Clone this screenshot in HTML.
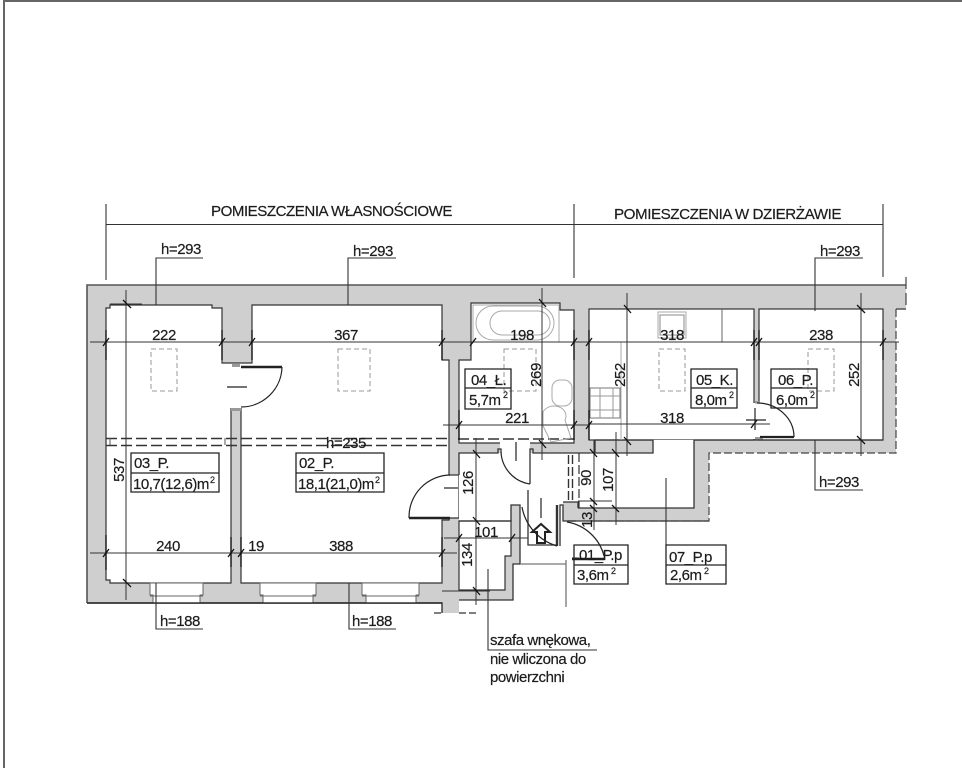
<!DOCTYPE html>
<html><head><meta charset="utf-8"><style>
html,body{margin:0;padding:0;background:#fff}
svg{display:block}
text{font-family:"Liberation Sans",sans-serif;font-size:15px;letter-spacing:-.45px;fill:#1c1c1c;stroke:#1c1c1c;stroke-width:.2px}
#plan{filter:blur(.35px)}
</style></head><body>
<svg width="962" height="768" viewBox="0 0 962 768" xmlns="http://www.w3.org/2000/svg">
<rect width="962" height="768" fill="#fff"/>
<g id="plan">
<path d="M4 768V1H962" fill="none" stroke="#666" stroke-width="2"/>

<!-- walls -->
<path d="M87 285H906V309H896V453H709V521H563V502H520V564H513V600H459V613H442V603H87Z" fill="#cfcfcf"/>
<!-- rooms white -->
<g fill="#fff" stroke="#333" stroke-width="1.2">
<path d="M106 308H110V305H212V308H222V363H252V305H442V360H449V475H459V518H449V520H442V583H241V408H231V583H110V580H106Z"/>
<path d="M471 303H560V310H574V443H459V360H471Z"/>
<rect x="589" y="309" width="165" height="131"/>
<rect x="759" y="309" width="124" height="131"/>
<path d="M459 453H653V440H694V508H578V502H563V502H520V505H511V521H459Z" stroke="none"/>
<path d="M459 521H511V556H505V590H459Z"/>
</g>
<rect x="222" y="364" width="20" height="44" fill="#fff"/>
<rect x="500" y="442" width="30" height="13" fill="#fff"/>
<rect x="753" y="403" width="7" height="36" fill="#fff"/>
<rect x="232" y="364" width="8" height="3" fill="#999"/>
<rect x="231" y="408" width="10" height="3" fill="#999"/>
<rect x="755" y="401" width="5" height="2.500" fill="#999"/>
<rect x="755" y="437" width="8" height="3" fill="#999"/>

<!-- solid wall outlines -->
<g fill="none" stroke="#333" stroke-width="1.3">
<path d="M906 309H896M87 603V285H906" stroke-width="1.6" stroke="#555"/>
<path d="M87 603H442V613" stroke-width="1.4"/>
<path d="M459 475V453H498V449H501V453M530 484V449H533V453H590"/>
<path d="M595 453H653V440H595ZM694 440V508H578M694 440H883" />
<path d="M459 521H511V505H520V564H513V600H459"/>
<path d="M528 490V545H557M563 502H578V508"/>
<path d="M560 546V505H563V521H709"/>
<path d="M557 546V505" stroke-width="2.4"/>
<path d="M568 521H576"/>
<path d="M520 564H566M566 560V607" stroke="#777"/>
<path d="M434 613H442M459 613H476" stroke-dasharray="7 3"/>
</g>
<!-- dashed outer -->
<path d="M896 309V453H709V521H595" fill="none" stroke="#444" stroke-width="1.2" stroke-dasharray="8 3"/>
<path d="M906 277V308" fill="none" stroke="#444" stroke-width="1.2" stroke-dasharray="12 4"/>
<path d="M568.500 455V501M572.500 455V501" fill="none" stroke="#333" stroke-width="1.4" stroke-dasharray="9 3"/>
<path d="M579 453V508" fill="none" stroke="#333" stroke-width="1.2" stroke-dasharray="9 3"/>
<path d="M106 438.500H449M106 445.500H449M458 439H574" fill="none" stroke="#333" stroke-width="1.4" stroke-dasharray="11 4"/>
<path d="M110 438V445M225 438V445" stroke="#555" fill="none"/>

<!-- windows -->
<g fill="#fff" stroke="#666" stroke-width="1">
<path d="M150 583V595H153V603H200V595H203V583Z"/>
<path d="M260 583V595H263V603H313V595H316V583Z"/>
<path d="M362 583V595H366V603H416V595H419V583Z"/>
<path d="M150 596H203M260 596H316M362 596H419" fill="none"/>
</g>
<path d="M87 603H442" stroke="#333" stroke-width="1.4"/>

<!-- fixtures -->
<g fill="none" stroke="#aaa" stroke-width="1">
<rect x="473" y="305" width="86" height="37"/>
<rect x="476" y="306" width="78" height="34" rx="17"/>
<rect x="490" y="311" width="60" height="24" rx="12"/>
<rect x="552" y="380" width="20" height="26" rx="8"/>
<path d="M543 412a12 10 0 0 1 22 8l6 18-20 4-8-16z"/>
<rect x="658" y="312" width="28" height="26"/>
<rect x="660" y="315" width="24" height="20" stroke="#888"/>
<path d="M621 342V440"/>
<rect x="590" y="388" width="30" height="30" stroke="#777"/>
<path d="M590 396H620M590 410H620M600 388V418M613 388V418" stroke="#999"/>
</g>
<path d="M589 342H754M722 309V342" stroke="#666" fill="none"/>
<g fill="none" stroke="#999" stroke-width="1" stroke-dasharray="5 3">
<rect x="151" y="349" width="26" height="42"/>
<rect x="338" y="349" width="32" height="42"/>
<rect x="504" y="349" width="32" height="42"/>
<rect x="659" y="349" width="26" height="42"/>
<rect x="808" y="349" width="26" height="42"/>
</g>

<!-- doors -->
<g fill="none" stroke="#222" stroke-width="1.2">
<path d="M282 367A41 41 0 0 1 241 407"/>
<path d="M241 367H282" stroke-width="2.4"/>
<path d="M227 387H247"/>
<path d="M450 475A42 42 0 0 0 409 518"/>
<path d="M409 518H450" stroke-width="2.4"/>
<path d="M444 488H458"/>
<path d="M501 452A34 34 0 0 0 530 484"/>
<path d="M516 442V461"/>
<path d="M522 507A50 50 0 0 0 557 546"/>
<path d="M541 498V518"/>
<path d="M567 522A46 46 0 0 1 604 556"/>
<path d="M572 559H604" stroke-width="2.4"/>
<path d="M757 403A37 34 0 0 1 794 437"/>
<path d="M760 437H794" stroke-width="2.2"/>
<path d="M746 420H766M755 408V430"/>
<path d="M532 532L541 524L550 532H545V543H537V532Z" stroke-width="2"/>
<path d="M572 558H579" stroke-width="1"/>
</g>

<!-- header -->
<g fill="none" stroke="#333" stroke-width="1.1">
<path d="M106 204V280M106 224.500H883M574 204V278M883 204V277"/>
<path d="M156 305V258H203M348 305V258H396M815 311V258H863"/>
<path d="M156 583V629H203M349 583V629H396M815 440V490H863"/>
<path d="M488 569V650H597M666 478V545"/>
</g>

<!-- dimensions -->
<g fill="none" stroke="#333" stroke-width="1">
<path d="M90 342H466M442 342H600M580 342H780M752 342H899"/>
<path d="M90 553H457"/>
<path d="M443 425H590M589 424H770"/>
<path d="M444 538H528"/>
<path d="M126 290V600M542 288V460M627 293V456M861 293V456M476 438V605M594 440V530M616 432V525"/>
<path d="M110 304H142M110 583H142M525 303H560M610 309H640M845 309H880M845 440H880M575 453H625M578 501H612M578 508H640M461 521H490M442 591H490M600 453H640"/>
</g>
<g fill="none" stroke="#111" stroke-width="1.3">
<path d="M123 300L131 308M123 579L131 587M539 299L546 307M624 305L631 313M857 305L865 313M857 436L865 444M539 440L546 448M624 437L631 445M473 450L480 458M473 517L480 525M473 587L480 595"/>
<path d="M103 346L109 338M219 346L225 338M249 346L255 338M439 346L445 338M470 346L476 338M571 346L577 338M586 346L592 338M751 346L757 338M756 346L762 338M880 346L886 338"/>
<path d="M103 557L109 549M228 557L234 549M238 557L244 549M439 557L445 549M456 429L462 421M571 429L577 421M586 429L592 421M751 428L757 420M456 542L462 534M509 542L515 534"/>
<path d="M590 449L597 457M612 449L619 457M590 498L597 505M590 505L597 512M612 505L619 512"/>
<path d="M106 330V360M106 535V570M222 330V360M252 330V360M231 537V567M241 537V567M442 330V360M442 537V567M459 410V440M574 330V360M589 330V360M574 410V440M589 410V440M754 330V360M759 330V360M883 330V360"/>
</g>

<!-- text -->
<text x="211" y="216" textLength="241" lengthAdjust="spacingAndGlyphs">POMIESZCZENIA WŁASNOŚCIOWE</text>
<text x="614" y="219" textLength="227" lengthAdjust="spacingAndGlyphs">POMIESZCZENIA W DZIERŻAWIE</text>
<text x="161" y="254">h=293</text>
<text x="353" y="256">h=293</text>
<text x="820" y="256">h=293</text>
<text x="160" y="626">h=188</text>
<text x="352" y="626">h=188</text>
<text x="819" y="487">h=293</text>
<text x="346" y="448" text-anchor="middle">h=235</text>
<g text-anchor="middle">
<text x="164" y="340">222</text>
<text x="346" y="340">367</text>
<text x="522" y="340">198</text>
<text x="672" y="340">318</text>
<text x="821" y="340">238</text>
<text x="517" y="423">221</text>
<text x="672" y="423">318</text>
<text x="168" y="551">240</text>
<text x="256" y="551">19</text>
<text x="341" y="551">388</text>
<text x="486" y="537">101</text>
<text transform="translate(124,470) rotate(-90)">537</text>
<text transform="translate(541,375) rotate(-90)">269</text>
<text transform="translate(625,375) rotate(-90)">252</text>
<text transform="translate(859,375) rotate(-90)">252</text>
<text transform="translate(473,483) rotate(-90)">126</text>
<text transform="translate(472,555) rotate(-90)">134</text>
<text transform="translate(591,478) rotate(-90)">90</text>
<text transform="translate(613,480) rotate(-90)">107</text>
<text transform="translate(592,520) rotate(-90)">13</text>
</g>
<text x="490" y="645">szafa wnękowa,</text>
<text x="490" y="664">nie wliczona do</text>
<text x="490" y="682">powierzchni</text>

<!-- label boxes -->
<g fill="none" stroke="#222" stroke-width="1.3">
<path d="M131 453H219V492H131ZM131 473H219"/>
<path d="M296 453H384V492H296ZM296 473H384"/>
<path d="M465 369H511V409H465ZM465 388H511"/>
<path d="M691 369H737V408H691ZM691 388H737"/>
<path d="M771 369H817V408H771ZM771 388H817"/>
<path d="M574 545H628V584H574ZM574 565H628"/>
<path d="M666 545H726V584H666ZM666 565H726"/>
</g>
<text x="134" y="468">03_P.</text>
<text x="133" y="489" textLength="76" lengthAdjust="spacingAndGlyphs">10,7(12,6)m</text><text x="210" y="483" style="font-size:9px">2</text>
<text x="299" y="468">02_P.</text>
<text x="298" y="489" textLength="76" lengthAdjust="spacingAndGlyphs">18,1(21,0)m</text><text x="375" y="483" style="font-size:9px">2</text>
<text x="471" y="385">04_Ł.</text>
<text x="469" y="405">5,7m</text><text x="503" y="398" style="font-size:9px">2</text>
<text x="696" y="385">05_K.</text>
<text x="695" y="405">8,0m</text><text x="729" y="398" style="font-size:9px">2</text>
<text x="778" y="385">06_P.</text>
<text x="776" y="405">6,0m</text><text x="810" y="398" style="font-size:9px">2</text>
<text x="579" y="560">01_P.p</text>
<text x="577" y="580">3,6m</text><text x="611" y="574" style="font-size:9px">2</text>
<text x="669" y="562">07_P.p</text>
<text x="670" y="580">2,6m</text><text x="704" y="574" style="font-size:9px">2</text>
</g>
</svg>
</body></html>
